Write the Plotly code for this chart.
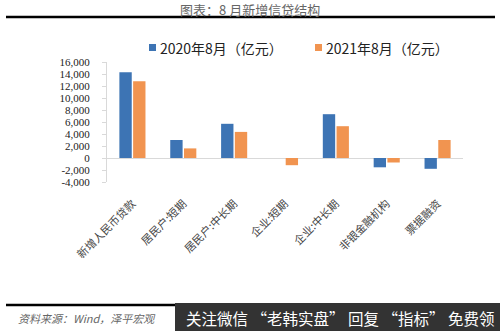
import plotly.graph_objects as go

categories = ["新增人民币贷款", "居民户:短期", "居民户:中长期", "企业:短期", "企业:中长期", "非银金融机构", "票据融资"]
s2020 = [14300, 3000, 5700, 0, 7300, -1550, -1800]
s2021 = [12800, 1600, 4350, -1200, 5300, -750, 3000]
name2020 = "2020年8月（亿元）"
name2021 = "2021年8月（亿元）"
tickvals_y = [-4000, -2000, 0, 2000, 4000, 6000, 8000, 10000, 12000, 14000, 16000]
ticktext_y = ["-4,000", "-2,000", "0", "2,000", "4,000", "6,000", "8,000", "10,000", "12,000", "14,000", "16,000"]

blue = "#3D74B4"
orange = "#F19450"
cjk = "Noto Sans CJK SC"

fig = go.Figure()
fig.add_trace(go.Bar(x=categories, y=s2020, name=name2020, marker=dict(color=blue, line=dict(width=0))))
fig.add_trace(go.Bar(x=categories, y=s2021, name=name2021, marker=dict(color=orange, line=dict(width=0))))

fig.update_layout(
    width=500, height=331,
    margin=dict(l=107, r=37, t=62, b=149),
    paper_bgcolor="white", plot_bgcolor="white",
    barmode="group", bargap=0.46, bargroupgap=0.1,
    showlegend=False,
    font=dict(family=cjk, color="#333333"),
)
fig.update_xaxes(
    showgrid=False, showline=False, ticks="outside", ticklen=10, tickcolor="rgba(0,0,0,0)", tickangle=-45,
    tickfont=dict(family=cjk, size=11, color="#444444"),
)
fig.update_yaxes(
    range=[-4000, 16000], tickvals=tickvals_y, ticktext=ticktext_y,
    showgrid=False, zeroline=True, zerolinecolor="#D9D9D9", zerolinewidth=1,
    showline=True, linecolor="#D9D9D9", linewidth=1,
    ticks="outside", ticklen=4, tickcolor="#D9D9D9", ticklabelstandoff=10,
    tickfont=dict(family="Liberation Serif", size=11, color="#222222"),
)

def px_x(x):
    return (x - 107) / 356

def px_y(y):
    return (182 - y) / 120

# Title
fig.add_annotation(xref="paper", yref="paper", x=px_x(250), y=px_y(9),
                   text="图表：8 月新增信贷结构", showarrow=False,
                   font=dict(family=cjk, size=13, color="#666666"), xanchor="center", yanchor="middle")

# top rule
fig.add_shape(type="line", xref="paper", yref="paper", x0=px_x(6), x1=px_x(495), y0=px_y(17), y1=px_y(17),
              line=dict(color="black", width=2.5))
# bottom rule
fig.add_shape(type="line", xref="paper", yref="paper", x0=px_x(6), x1=px_x(495), y0=px_y(305), y1=px_y(305),
              line=dict(color="black", width=2.5))

# Legend
fig.add_shape(type="rect", xref="paper", yref="paper", x0=px_x(149), x1=px_x(156), y0=px_y(51), y1=px_y(44),
              fillcolor=blue, line=dict(width=0))
fig.add_annotation(xref="paper", yref="paper", x=px_x(158), y=px_y(47.5), text=name2020, showarrow=False,
                   xanchor="left", yanchor="middle", font=dict(family=cjk, size=14, color="#222222"))
fig.add_shape(type="rect", xref="paper", yref="paper", x0=px_x(315), x1=px_x(322), y0=px_y(51), y1=px_y(44),
              fillcolor=orange, line=dict(width=0))
fig.add_annotation(xref="paper", yref="paper", x=px_x(324), y=px_y(47.5), text=name2021, showarrow=False,
                   xanchor="left", yanchor="middle", font=dict(family=cjk, size=14, color="#222222"))

# Source
fig.add_annotation(xref="paper", yref="paper", x=px_x(16), y=px_y(318), text="<i>资料来源：Wind，泽平宏观</i>",
                   showarrow=False, xanchor="left", yanchor="middle",
                   font=dict(family=cjk, size=11, color="#666666"))

# Watermark overlay
fig.add_shape(type="rect", xref="paper", yref="paper", x0=px_x(175), x1=px_x(500), y0=px_y(331), y1=px_y(303),
              fillcolor="#333333", line=dict(width=0))
fig.add_annotation(xref="paper", yref="paper", x=px_x(184), y=px_y(318),
                   text="关注微信 “老韩实盘” 回复 “指标” 免费领", showarrow=False,
                   xanchor="left", yanchor="middle", font=dict(family=cjk, size=15.5, color="white"))

fig.write_html("out.html")
